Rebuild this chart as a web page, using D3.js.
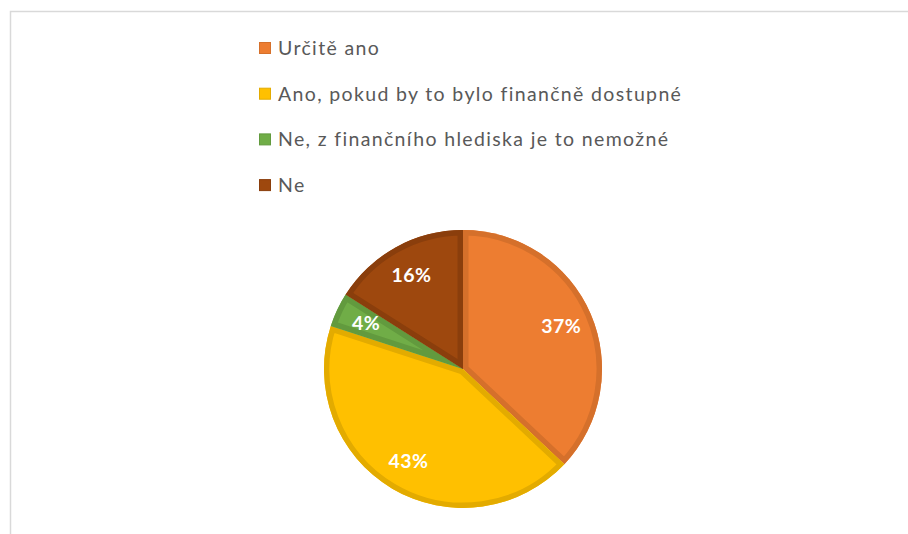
<!DOCTYPE html>
<html>
<head>
<meta charset="utf-8">
<script src="https://cdn.jsdelivr.net/npm/d3@7"></script>
<style>
  body { margin: 0; background: #fff; }
  svg { display: block; }
</style>
</head>
<body>
<div id="chart"></div>
<script>
var categories = ["Určitě ano", "Ano, pokud by to bylo finančně dostupné", "Ne, z finančního hlediska je to nemožné", "Ne"];
var values = [37, 43, 4, 16];
var fills = ["#ED7D31", "#FFC000", "#70AD47", "#9E480E"];
var strokes = ["#D5702B", "#E3AB00", "#629A3E", "#8A3E0C"];

var width = 908, height = 534;

var svg = d3.select("#chart").append("svg")
  .attr("width", width)
  .attr("height", height);

// chart area border (left + top visible)
svg.append("path")
  .attr("d", "M10.5,534 L10.5,11.5 L908,11.5")
  .style("fill", "none")
  .style("stroke", "#d9d9d9")
  .style("stroke-width", 1.5);

// legend
var legend = svg.append("g").attr("transform", "translate(259,48)");
var item = legend.selectAll(".item")
  .data(categories)
  .enter().append("g")
  .attr("class", "item")
  .attr("transform", function(d, i) { return "translate(0," + (i * 45.7) + ")"; });

item.append("rect")
  .attr("x", 0.5).attr("y", -5.5)
  .attr("width", 11).attr("height", 11)
  .style("fill", function(d, i) { return fills[i]; })
  .style("stroke", function(d, i) { return strokes[i]; });

item.append("text")
  .attr("x", 19)
  .attr("y", 0)
  .attr("dy", "0.35em")
  .style("font-family", "Lato, 'Open Sans', sans-serif")
  .style("font-size", "19.5px")
  .style("letter-spacing", "1.35px")
  .style("fill", "#595959")
  .text(function(d) { return d; });

// pie
var cx = 463, cy = 369, r = 139;
var g = svg.append("g").attr("transform", "translate(" + cx + "," + cy + ")");

var pie = d3.pie().sort(null).value(function(d) { return d; });
var arcs = pie(values);
var arc = d3.arc().innerRadius(0).outerRadius(r);
var labelArc = d3.arc().innerRadius(r * 0.77).outerRadius(r * 0.77);

var defs = svg.append("defs");
arcs.forEach(function(a, i) {
  defs.append("clipPath").attr("id", "clip" + i)
    .append("path").attr("d", arc(a));
});

var slice = g.selectAll(".slice")
  .data(arcs)
  .enter().append("g")
  .attr("class", "slice");

slice.append("path")
  .attr("d", arc)
  .style("fill", function(d, i) { return fills[i]; });

slice.append("path")
  .attr("d", arc)
  .attr("clip-path", function(d, i) { return "url(#clip" + i + ")"; })
  .style("fill", "none")
  .style("stroke", function(d, i) { return strokes[i]; })
  .style("stroke-width", 11)
  .style("stroke-linejoin", "miter");

g.selectAll(".lbl")
  .data(arcs)
  .enter().append("text")
  .attr("class", "lbl")
  .attr("transform", function(d) { return "translate(" + labelArc.centroid(d) + ")"; })
  .attr("text-anchor", "middle")
  .attr("dy", "0.35em")
  .style("font-family", "Lato, 'Open Sans', sans-serif")
  .style("font-weight", "bold")
  .style("font-size", "19.5px")
  .style("letter-spacing", "0.5px")
  .style("fill", "#fff")
  .text(function(d) { return d.data + "%"; });
</script>
</body>
</html>
